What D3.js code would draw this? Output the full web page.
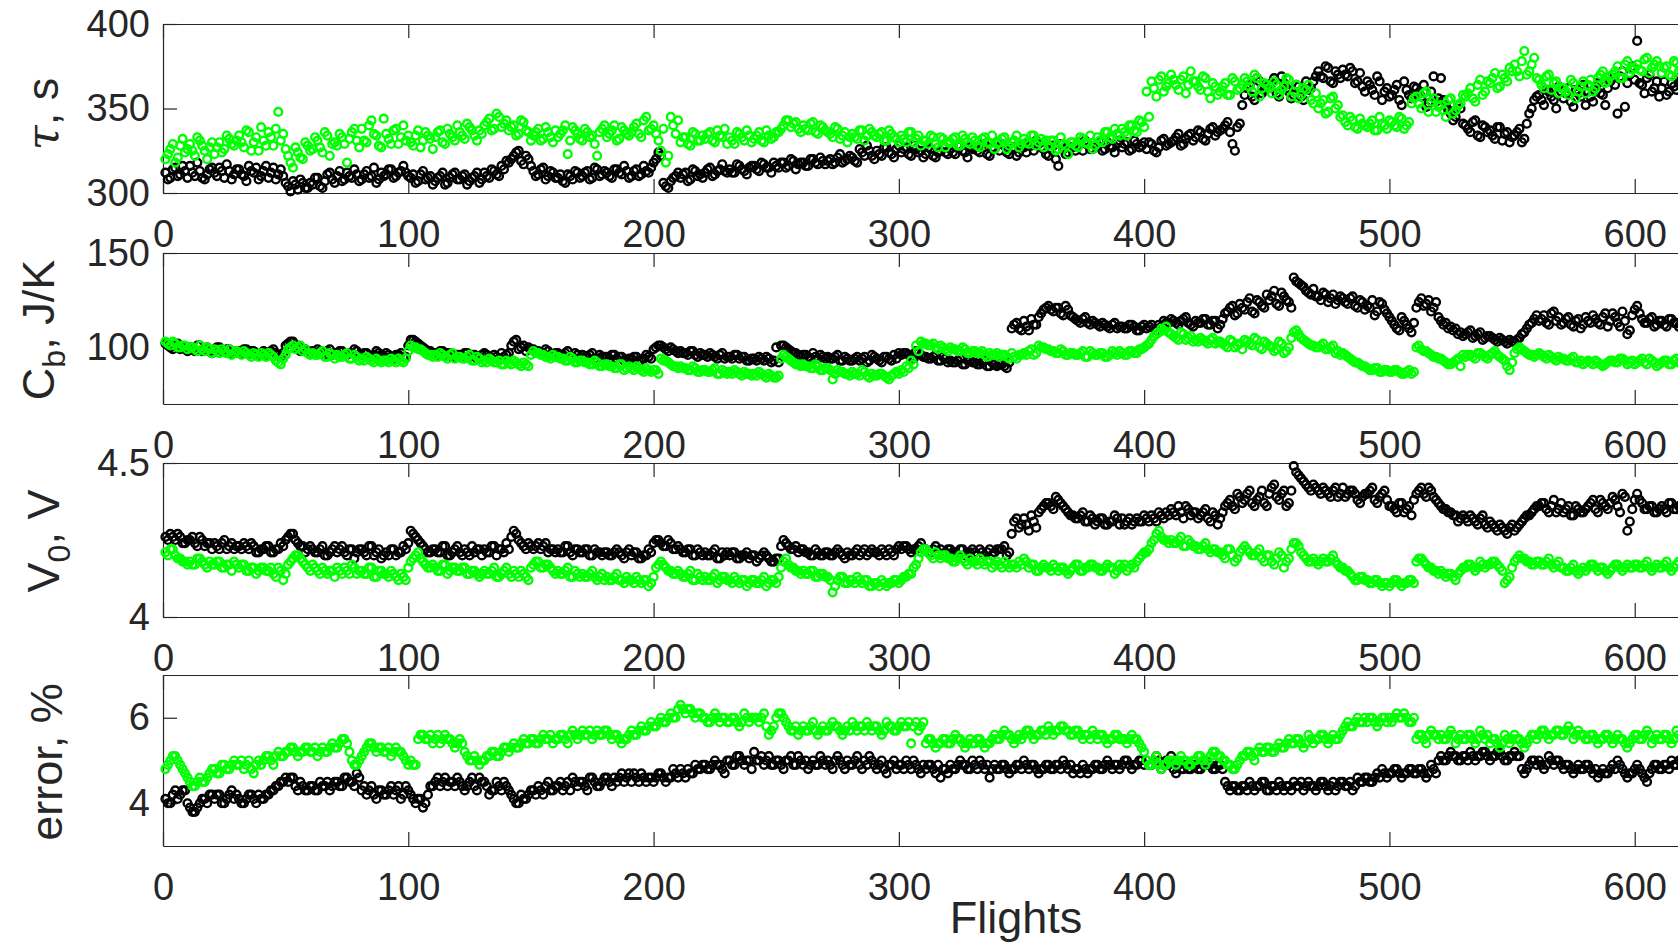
<!DOCTYPE html>
<html><head><meta charset="utf-8">
<script src="https://cdn.jsdelivr.net/npm/d3@7"></script>
<style>body{margin:0;background:#fff}svg{display:block}</style>
</head><body>
<svg id="c" width="1678" height="943"></svg>
<script>
// odd flights (1,3,...,619) and even flights (2,4,...,620)
const flightsOdd = d3.range(1, 620, 2);
const flightsEven = d3.range(2, 621, 2);
const xTicks = [0, 100, 200, 300, 400, 500, 600];
const tauTicks = [300, 350, 400];
const cbTicks = [100, 150];
const v0Ticks = [4, 4.5];
const errTicks = [4, 6];

const tauBlack = [
312,309,315,311,313, 316,310,313,308,314, 312,315,309,313,311, 314,310,316,312,308,
313,309,315,311,310, 304,307,302,306,303, 305,309,303,311,308, 310,307,312,309,311,
308,313,310,306,312, 311,314,310,313,312, 309,306,311,308,310, 307,310,305,309,312,
308,311,307,310,306, 312,309,313,310,314, 318,322,325,317,320, 313,311,315,310,312,
309,307,311,308,312, 310,313,309,314,311, 312,309,314,311,313, 310,314,311,313,315,
320,322,304,307,310, 309,312,308,313,311, 312,315,311,314,313, 314,312,316,313,315,
316,313,317,315,318, 315,318,316,319,317, 318,316,320,317,319, 319,317,321,318,320,
321,318,324,328,322, 325,322,327,323,326, 324,327,322,326,325, 323,326,321,325,324,
326,323,328,324,327, 327,324,329,322,326, 325,328,323,327,324, 327,330,325,329,326,
322,328,316,326,324, 327,330,325,329,326, 328,325,330,327,329, 327,330,326,329,328,
326,329,324,331,328, 330,333,328,332,335, 333,336,331,338,334, 337,340,336,325,341,
358,364,355,366,361, 362,368,357,365,360, 358,363,355,361,366, 372,368,374,365,370,
373,369,372,366,363, 366,361,369,355,362, 358,364,352,361,356, 362,357,351,360,354,
368,352,347,345,350, 340,336,343,333,339, 337,332,339,335,330, 334,338,332,347,355,
358,352,360,355,363, 356,362,351,359,364, 360,354,365,358,362, 368,347,372,365,375,
390,364,368,360,366, 362,358,365,361,367];
const tauBlackEven = [
308,314,310,316,309, 312,318,309,311,315, 310,313,317,308,314, 311,307,313,315,310,
316,312,308,314,306, 301,305,308,303,306, 309,304,307,312,306, 313,308,310,314,307,
311,309,315,308,310, 314,309,312,316,310, 311,307,313,309,305, 309,312,306,311,308,
310,305,309,312,308, 310,314,311,316,319, 320,324,319,322,316, 310,314,308,313,309,
311,306,310,313,309, 312,308,315,310,313, 310,314,312,316,309, 313,310,316,312,318,
324,306,303,309,312, 311,307,314,310,309, 314,310,313,317,312, 312,317,314,311,316,
314,318,315,312,316, 318,315,320,314,318, 316,320,318,321,317, 320,318,323,319,322,
319,326,322,325,320, 323,327,324,321,328, 326,323,328,324,321, 327,322,324,328,323,
324,328,325,321,326, 325,329,323,327,330, 329,324,326,322,328, 324,328,331,327,323,
326,320,329,323,327, 325,329,331,326,328, 330,326,328,324,331, 329,325,331,327,330,
330,325,327,332,329, 331,335,329,334,331, 337,332,335,339,336, 338,342,329,339,352,
362,357,368,359,363, 365,359,369,362,356, 364,357,366,362,369, 369,375,366,372,368,
370,374,365,371,360, 364,358,366,360,357, 361,355,366,358,363, 359,364,353,369,356,
355,349,343,352,341, 338,342,334,340,336, 334,339,331,336,333, 336,330,341,350,357,
355,361,357,350,360, 359,354,361,357,352, 357,363,359,352,366, 364,369,351,370,367,
365,359,370,362,357, 366,360,363,368,359];

const tauGreen = [
320,326,318,328,324, 329,322,331,325,327, 323,330,326,332,328, 334,327,336,330,325,
331,336,328,348,335, 322,315,324,320,328, 326,331,324,334,329, 328,333,318,336,331,
338,330,343,334,327, 335,329,338,333,331, 330,334,327,336,332, 333,337,329,335,331,
336,332,339,334,337, 340,344,338,345,341, 337,340,335,342,336, 334,338,332,336,330,
333,337,323,339,335, 331,336,334,322,338, 333,337,331,339,335, 336,341,333,345,338,
335,325,318,345,335, 330,333,328,335,331, 332,336,330,334,338, 333,329,335,331,334,
332,336,330,334,333, 336,340,343,341,338, 340,337,342,335,339, 336,333,338,334,330,
335,332,337,334,336, 333,336,331,335,332, 334,330,336,332,328, 331,334,329,333,327,
330,333,328,332,329, 331,327,333,329,326, 330,333,328,331,327, 332,329,334,330,327,
328,331,326,329,323, 330,327,332,329,326, 333,330,336,332,335, 338,334,340,336,342,
360,366,357,369,363, 370,364,367,359,372, 366,361,368,356,363, 360,365,358,366,362,
368,363,370,357,365, 362,366,358,363,367, 360,356,362,364,353, 350,355,348,357,352,
346,340,343,338,341, 339,343,337,341,338, 342,339,344,340,353, 357,350,360,354,348,
352,345,356,349,353, 357,362,354,367,360, 365,371,363,368,374, 376,369,384,372,380,
367,362,370,365,359, 362,358,365,360,366, 364,360,368,372,366, 370,375,368,378,373,
376,372,380,374,378, 371,375,369,377,373];
const tauGreenEven = [
323,329,321,332,326, 325,333,328,320,330, 327,324,334,329,331, 330,337,325,333,339,
328,333,338,331,326, 318,327,321,330,325, 333,327,336,322,330, 335,329,332,338,327,
331,340,335,328,344, 332,337,329,340,334, 328,337,331,334,326, 336,330,338,333,340,
334,341,337,331,335, 342,337,347,339,343, 339,334,343,337,331, 336,331,339,333,337,
335,340,331,337,332, 338,333,329,336,340, 335,340,332,337,334, 339,335,343,337,340,
331,338,322,340,343, 333,329,336,331,334, 335,331,337,333,329, 331,336,333,337,330,
334,331,337,332,336, 338,343,339,342,336, 338,341,336,340,337, 335,339,332,336,333,
333,337,331,338,334, 335,331,337,333,330, 332,336,330,334,331, 329,333,327,332,330,
332,328,334,330,333, 328,332,330,334,329, 332,326,330,334,329, 330,334,328,332,331,
331,325,333,328,330, 328,333,330,334,328, 331,336,333,338,334, 336,340,337,343,339,
345,362,367,360,365, 367,361,369,364,366, 363,369,360,365,358, 363,358,368,361,364,
366,360,368,362,364, 359,364,361,368,357, 364,358,361,355,359, 353,347,356,350,345,
342,345,339,344,340, 341,337,345,340,343, 340,345,338,342,356, 353,359,348,356,351,
349,355,347,352,358, 359,356,364,358,366, 368,362,370,366,372, 372,378,370,376,368,
364,369,361,366,362, 360,367,356,363,359, 367,362,370,365,369, 372,368,376,371,374,
373,379,371,376,375, 374,370,378,372,376];

const cbBlack = [
102,100,101,99,100, 100,98,101,99,98, 99,100,98,99,97, 98,99,97,98,96,
98,97,99,96,97, 102,103,101,99,98, 98,99,97,98,96, 97,98,96,97,98,
96,97,95,98,96, 97,95,96,97,95, 104,103,101,99,98, 97,98,96,97,95,
96,97,95,96,94, 97,95,96,94,95, 97,103,99,101,100, 99,98,97,98,96,
97,96,98,95,96, 96,95,97,94,95, 95,96,94,95,93, 94,95,93,96,94,
100,101,99,100,98, 98,97,98,96,97, 96,97,95,96,94, 95,96,94,95,93,
94,95,93,94,93, 92,101,99,97,96, 96,95,97,94,95, 95,94,96,93,94,
93,95,94,92,96, 94,92,95,93,94, 96,97,95,98,96, 95,94,96,93,94,
93,92,94,91,93, 92,91,93,90,91, 91,90,92,112,110, 114,109,112,116,120,
122,119,121,117,120, 116,114,115,113,114, 112,113,111,112,110, 111,110,112,109,111,
110,112,109,111,113, 115,113,114,116,112, 114,113,115,112,114, 112,118,121,117,123,
120,126,118,124,121, 125,130,122,127,124, 137,134,132,129,131, 127,129,124,128,125,
126,123,127,121,124, 122,125,119,123,118, 114,110,116,112,108, 121,126,123,119,124,
114,113,111,110,108, 107,109,106,108,105, 106,104,105,103,104, 103,105,108,112,115,
114,117,112,119,116, 113,116,111,115,112, 114,117,113,116,111, 118,113,119,107,117,
122,115,113,116,112, 114,111,115,113,112];
const cbBlackEven = [
101,99,102,100,98, 99,101,98,100,97, 100,98,99,97,98, 97,99,98,96,97,
96,98,97,95,101, 103,100,98,99,97, 97,98,96,99,97, 98,96,97,99,96,
97,95,96,97,95, 96,94,96,95,101, 104,102,100,98,97, 96,98,97,95,96,
95,97,96,94,96, 96,94,95,97,96, 101,104,100,98,99, 98,97,99,96,97,
96,97,95,97,94, 95,96,94,96,95, 94,96,95,93,94, 95,93,94,95,99,
101,100,98,99,97, 97,96,98,95,96, 95,96,94,97,95, 94,96,95,93,94,
93,94,95,92,100, 101,100,98,97,95, 96,94,95,96,94, 94,95,93,95,93,
94,93,95,93,95, 93,95,94,96,97, 97,96,94,97,95, 94,95,93,95,92,
92,93,91,93,92, 91,92,90,92,90, 91,89,110,113,109, 111,115,112,118,121,
120,121,118,122,117, 115,113,116,112,113, 111,112,110,113,111, 110,112,111,109,112,
111,110,112,114,113, 114,112,115,113,111, 113,115,112,114,110, 115,119,122,118,121,
124,119,125,122,128, 127,123,129,125,121, 135,133,130,128,127, 125,128,126,123,127,
124,126,122,125,120, 121,117,124,120,116, 112,109,114,110,113, 124,122,125,121,116,
112,110,109,107,106, 108,105,107,104,106, 105,103,104,102,103, 104,107,110,113,117,
115,113,118,114,112, 115,112,114,110,116, 113,115,112,118,114, 116,111,114,109,120,
118,113,115,111,114, 112,115,113,111,114];

const cbGreen = [
103,101,102,100,101, 100,99,101,98,99, 99,97,98,99,97, 97,98,96,97,95,
96,97,95,92,94, 99,101,100,98,97, 97,96,98,95,96, 96,95,97,94,95,
94,95,93,94,92, 93,94,92,93,94, 101,100,99,97,96, 96,97,95,96,94,
95,94,96,93,94, 93,94,92,93,91, 92,93,91,92,90, 98,97,96,95,96,
95,94,93,94,92, 93,92,91,92,90, 91,90,89,91,89, 89,90,88,89,87,
88,94,93,91,90, 90,89,88,89,87, 88,87,89,86,87, 87,88,86,87,86,
86,87,85,86,84, 85,96,94,92,91, 91,90,89,90,88, 89,83,88,87,86,
87,86,88,85,86, 85,86,84,85,87, 88,90,93,101,103, 102,101,100,101,99,
100,99,98,99,97, 98,97,96,97,96, 95,96,94,95,96, 97,98,96,101,100,
99,98,97,98,96, 97,96,98,95,97, 96,97,95,98,96, 97,96,98,97,99,
101,104,107,110,111, 107,105,108,104,106, 104,105,103,104,102, 103,101,104,100,102,
104,102,105,100,103, 101,98,103,97,100, 108,107,104,102,101, 100,102,99,101,98,
97,95,93,92,90, 89,88,89,87,88, 87,88,86,87,86, 100,99,98,96,95,
94,92,91,93,90, 95,96,94,97,95, 96,98,95,93,88, 97,100,98,96,95,
97,95,96,94,95, 94,93,95,92,91, 93,91,92,90,92, 93,92,94,91,93,
92,94,91,93,90, 92,93,91,94,92];
const cbGreenEven = [
102,103,100,101,99, 100,98,99,100,97, 98,99,97,96,98, 96,97,95,96,97,
95,96,93,91,96, 100,99,101,99,96, 96,97,95,97,94, 95,96,94,96,93,
93,94,92,93,93, 92,93,94,92,98, 100,99,98,96,95, 95,96,94,97,95,
94,95,93,95,92, 92,93,92,91,93, 91,92,90,91,96, 97,96,95,94,95,
94,93,95,92,93, 92,91,93,90,91, 90,89,91,88,90, 88,89,87,88,88,
86,93,92,90,89, 89,88,90,87,88, 87,88,86,88,86, 86,87,85,86,85,
85,86,84,85,84, 94,95,93,91,90, 90,89,91,88,89, 88,86,87,86,85,
86,85,87,84,85, 86,85,83,86,86, 87,89,91,98,102, 101,102,99,100,98,
99,98,100,97,98, 97,98,95,96,97, 96,95,97,94,96, 96,99,97,100,99,
98,97,99,96,97, 96,97,95,98,96, 97,95,96,97,98, 96,98,97,99,100,
102,106,108,109,108, 106,104,107,105,103, 103,104,102,105,103, 102,100,103,101,99,
103,101,104,99,102, 100,99,102,98,105, 109,105,103,101,100, 101,99,100,97,96,
96,94,92,91,90, 88,89,87,88,87, 88,87,86,88,87, 101,98,97,95,94,
93,91,92,94,96, 96,95,97,96,94, 97,96,94,90,92, 99,99,97,96,96,
96,94,95,93,94, 93,94,92,93,92, 92,93,91,91,93, 92,94,93,92,91,
93,92,94,92,91, 93,91,93,92,93];

const v0Black = [
4.26,4.27,4.25,4.26,4.24, 4.25,4.24,4.26,4.23,4.24, 4.24,4.22,4.25,4.23,4.22, 4.23,4.24,4.22,4.23,4.21,
4.22,4.23,4.21,4.22,4.23, 4.26,4.27,4.24,4.23,4.22, 4.22,4.21,4.23,4.20,4.22, 4.21,4.23,4.20,4.22,4.21,
4.22,4.20,4.23,4.21,4.19, 4.21,4.22,4.20,4.21,4.22, 4.28,4.26,4.24,4.22,4.21, 4.22,4.21,4.23,4.20,4.22,
4.21,4.22,4.20,4.21,4.22, 4.22,4.21,4.23,4.22,4.21, 4.22,4.28,4.25,4.23,4.24, 4.22,4.24,4.23,4.21,4.22,
4.22,4.21,4.23,4.20,4.22, 4.21,4.22,4.20,4.21,4.20, 4.21,4.20,4.22,4.20,4.21, 4.20,4.21,4.19,4.20,4.21,
4.25,4.24,4.23,4.24,4.22, 4.22,4.21,4.22,4.20,4.21, 4.21,4.20,4.22,4.19,4.20, 4.20,4.21,4.19,4.20,4.19,
4.20,4.19,4.21,4.19,4.18, 4.19,4.25,4.23,4.22,4.21, 4.22,4.21,4.20,4.21,4.20, 4.21,4.20,4.22,4.20,4.21,
4.20,4.22,4.21,4.20,4.22, 4.21,4.22,4.20,4.21,4.22, 4.22,4.23,4.21,4.22,4.24, 4.22,4.21,4.23,4.22,4.21,
4.22,4.21,4.22,4.20,4.21, 4.21,4.22,4.20,4.22,4.21, 4.22,4.23,4.21,4.31,4.29, 4.32,4.28,4.31,4.34,4.36,
4.37,4.35,4.38,4.36,4.34, 4.33,4.32,4.34,4.31,4.32, 4.31,4.32,4.30,4.31,4.32, 4.32,4.31,4.30,4.32,4.31,
4.32,4.33,4.31,4.33,4.34, 4.35,4.33,4.34,4.36,4.33, 4.34,4.33,4.35,4.31,4.33, 4.32,4.36,4.38,4.35,4.39,
4.38,4.41,4.36,4.39,4.37, 4.40,4.43,4.38,4.41,4.37, 4.49,4.46,4.44,4.42,4.43, 4.41,4.42,4.40,4.41,4.39,
4.42,4.40,4.41,4.38,4.39, 4.40,4.42,4.37,4.40,4.38, 4.36,4.34,4.37,4.35,4.33, 4.40,4.42,4.39,4.41,4.38,
4.36,4.35,4.34,4.33,4.32, 4.32,4.33,4.31,4.32,4.30, 4.31,4.29,4.30,4.28,4.29, 4.28,4.30,4.32,4.33,4.35,
4.36,4.37,4.34,4.38,4.35, 4.34,4.36,4.33,4.35,4.34, 4.36,4.38,4.34,4.37,4.35, 4.39,4.36,4.40,4.28,4.35,
4.40,4.37,4.35,4.36,4.34, 4.36,4.34,4.37,4.35,4.36];
const v0BlackEven = [
4.25,4.26,4.27,4.24,4.25, 4.26,4.23,4.25,4.24,4.22, 4.23,4.24,4.22,4.24,4.23, 4.22,4.23,4.24,4.21,4.22,
4.23,4.21,4.22,4.24,4.25, 4.27,4.25,4.23,4.21,4.23, 4.21,4.22,4.20,4.21,4.23, 4.22,4.21,4.22,4.19,4.22,
4.21,4.23,4.20,4.22,4.20, 4.20,4.22,4.21,4.23,4.24, 4.27,4.25,4.23,4.21,4.22, 4.21,4.23,4.20,4.21,4.23,
4.20,4.21,4.23,4.22,4.20, 4.21,4.23,4.20,4.22,4.24, 4.26,4.27,4.24,4.22,4.23, 4.23,4.22,4.24,4.22,4.21,
4.21,4.23,4.21,4.22,4.21, 4.22,4.20,4.22,4.21,4.21, 4.20,4.21,4.21,4.19,4.22, 4.21,4.19,4.20,4.22,4.24,
4.25,4.23,4.25,4.22,4.23, 4.21,4.22,4.20,4.22,4.20, 4.20,4.21,4.19,4.21,4.21, 4.21,4.19,4.20,4.21,4.20,
4.18,4.20,4.20,4.18,4.19, 4.23,4.24,4.22,4.23,4.22, 4.21,4.20,4.22,4.20,4.21, 4.20,4.21,4.21,4.19,4.20,
4.21,4.20,4.22,4.21,4.21, 4.20,4.21,4.22,4.20,4.23, 4.23,4.22,4.22,4.23,4.22, 4.21,4.22,4.21,4.20,4.22,
4.21,4.20,4.22,4.21,4.22, 4.20,4.21,4.21,4.20,4.22, 4.22,4.20,4.27,4.32,4.30, 4.30,4.33,4.29,4.35,4.37,
4.36,4.39,4.37,4.35,4.33, 4.32,4.33,4.31,4.33,4.30, 4.32,4.30,4.31,4.33,4.30, 4.30,4.32,4.31,4.31,4.33,
4.31,4.32,4.34,4.32,4.33, 4.34,4.36,4.32,4.35,4.34, 4.32,4.34,4.32,4.34,4.30, 4.34,4.37,4.36,4.40,4.37,
4.40,4.37,4.38,4.41,4.36, 4.42,4.39,4.40,4.36,4.41, 4.47,4.45,4.43,4.41,4.42, 4.40,4.41,4.39,4.42,4.40,
4.39,4.41,4.40,4.37,4.40, 4.41,4.38,4.39,4.41,4.36, 4.35,4.37,4.34,4.36,4.38, 4.41,4.40,4.42,4.39,4.37,
4.35,4.34,4.33,4.31,4.33, 4.31,4.32,4.30,4.33,4.29, 4.30,4.28,4.29,4.27,4.30, 4.29,4.31,4.33,4.34,4.36,
4.37,4.35,4.36,4.34,4.37, 4.35,4.33,4.36,4.34,4.35, 4.37,4.35,4.38,4.36,4.37, 4.38,4.34,4.39,4.31,4.38,
4.38,4.35,4.36,4.34,4.35, 4.35,4.37,4.35,4.36,4.34];

const v0Green = [
4.21,4.22,4.20,4.19,4.18, 4.18,4.17,4.19,4.17,4.18, 4.17,4.18,4.16,4.17,4.18, 4.16,4.17,4.15,4.16,4.15,
4.16,4.15,4.14,4.16,4.12, 4.17,4.19,4.20,4.18,4.16, 4.17,4.15,4.16,4.14,4.15, 4.16,4.14,4.15,4.17,4.14,
4.15,4.14,4.16,4.13,4.15, 4.14,4.15,4.13,4.14,4.12, 4.18,4.20,4.19,4.17,4.16, 4.16,4.15,4.17,4.15,4.16,
4.15,4.16,4.14,4.15,4.13, 4.15,4.14,4.16,4.13,4.15, 4.14,4.15,4.13,4.14,4.12, 4.17,4.18,4.16,4.17,4.15,
4.15,4.14,4.16,4.13,4.14, 4.14,4.13,4.15,4.12,4.14, 4.13,4.12,4.14,4.12,4.13, 4.12,4.13,4.11,4.12,4.11,
4.16,4.18,4.16,4.15,4.14, 4.14,4.13,4.15,4.12,4.13, 4.13,4.12,4.14,4.12,4.13, 4.12,4.13,4.11,4.12,4.11,
4.12,4.11,4.13,4.11,4.12, 4.13,4.18,4.17,4.16,4.15, 4.15,4.14,4.15,4.13,4.14, 4.13,4.08,4.12,4.13,4.11,
4.12,4.13,4.11,4.12,4.10, 4.11,4.12,4.10,4.11,4.12, 4.12,4.13,4.14,4.17,4.21, 4.22,4.20,4.21,4.19,4.20,
4.19,4.18,4.20,4.18,4.19, 4.18,4.19,4.17,4.18,4.17, 4.17,4.18,4.16,4.17,4.18, 4.19,4.16,4.17,4.15,4.17,
4.16,4.17,4.15,4.16,4.14, 4.16,4.17,4.15,4.16,4.17, 4.16,4.15,4.17,4.16,4.15, 4.16,4.15,4.17,4.18,4.20,
4.21,4.24,4.27,4.26,4.25, 4.25,4.24,4.26,4.23,4.24, 4.23,4.22,4.24,4.21,4.22, 4.21,4.19,4.22,4.18,4.21,
4.23,4.21,4.20,4.22,4.18, 4.20,4.17,4.21,4.16,4.19, 4.24,4.23,4.20,4.18,4.19, 4.17,4.19,4.18,4.20,4.17,
4.16,4.15,4.13,4.12,4.13, 4.12,4.11,4.12,4.10,4.11, 4.11,4.12,4.10,4.11,4.12, 4.18,4.19,4.17,4.16,4.15,
4.15,4.13,4.14,4.12,4.15, 4.16,4.17,4.15,4.18,4.16, 4.17,4.18,4.16,4.11,4.13, 4.18,4.20,4.19,4.18,4.17,
4.18,4.17,4.19,4.16,4.18, 4.16,4.15,4.17,4.14,4.16, 4.16,4.17,4.15,4.16,4.14, 4.16,4.17,4.15,4.17,4.16,
4.17,4.16,4.18,4.15,4.17, 4.16,4.18,4.15,4.17,4.16];
const v0GreenEven = [
4.20,4.22,4.19,4.18,4.17, 4.17,4.19,4.18,4.16,4.17, 4.18,4.16,4.17,4.15,4.17, 4.17,4.15,4.16,4.14,4.16,
4.15,4.16,4.13,4.15,4.14, 4.18,4.20,4.19,4.17,4.15, 4.16,4.14,4.15,4.15,4.13, 4.15,4.16,4.14,4.16,4.15,
4.14,4.16,4.13,4.15,4.14, 4.13,4.14,4.12,4.13,4.16, 4.19,4.21,4.18,4.16,4.17, 4.15,4.17,4.14,4.16,4.15,
4.16,4.14,4.15,4.14,4.14, 4.14,4.15,4.13,4.14,4.16, 4.13,4.14,4.15,4.13,4.16, 4.18,4.16,4.17,4.16,4.14,
4.14,4.15,4.13,4.15,4.13, 4.13,4.14,4.13,4.13,4.12, 4.12,4.13,4.12,4.11,4.12, 4.11,4.12,4.12,4.10,4.13,
4.17,4.17,4.15,4.14,4.15, 4.13,4.14,4.12,4.14,4.12, 4.12,4.13,4.11,4.13,4.12, 4.11,4.12,4.12,4.10,4.12,
4.11,4.12,4.10,4.12,4.11, 4.16,4.19,4.16,4.15,4.14, 4.14,4.15,4.13,4.14,4.13, 4.12,4.10,4.13,4.11,4.12,
4.11,4.12,4.12,4.10,4.11, 4.10,4.11,4.11,4.12,4.11, 4.13,4.14,4.16,4.19,4.22, 4.21,4.19,4.20,4.20,4.19,
4.18,4.19,4.19,4.17,4.18, 4.17,4.18,4.18,4.16,4.18, 4.16,4.17,4.17,4.16,4.17, 4.18,4.17,4.15,4.16,4.16,
4.15,4.16,4.16,4.15,4.15, 4.17,4.15,4.16,4.17,4.16, 4.15,4.16,4.16,4.14,4.17, 4.17,4.16,4.16,4.19,4.21,
4.22,4.25,4.28,4.25,4.24, 4.24,4.25,4.23,4.25,4.23, 4.22,4.23,4.22,4.22,4.21, 4.20,4.22,4.20,4.19,4.22,
4.22,4.20,4.21,4.19,4.20, 4.18,4.19,4.20,4.18,4.22, 4.24,4.21,4.19,4.18,4.18, 4.18,4.18,4.19,4.18,4.16,
4.15,4.14,4.12,4.13,4.12, 4.11,4.12,4.11,4.11,4.10, 4.12,4.11,4.11,4.12,4.11, 4.19,4.18,4.16,4.15,4.14,
4.14,4.14,4.13,4.14,4.16, 4.17,4.16,4.16,4.17,4.17, 4.18,4.17,4.15,4.12,4.16, 4.19,4.19,4.18,4.17,4.18,
4.17,4.18,4.17,4.17,4.16, 4.15,4.16,4.15,4.15,4.15, 4.17,4.16,4.16,4.15,4.15, 4.17,4.16,4.16,4.16,4.17,
4.16,4.17,4.16,4.16,4.16, 4.17,4.16,4.16,4.18,4.17];

const errBlack = [
4.1,4.0,4.3,4.2,4.3, 3.9,3.8,4.0,4.1,4.2, 4.1,4.2,4.0,4.2,4.1, 4.1,4.0,4.2,4.1,4.2,
4.1,4.2,4.3,4.4,4.5, 4.5,4.6,4.3,4.4,4.3, 4.4,4.3,4.4,4.5,4.4, 4.5,4.4,4.6,4.5,4.7,
4.3,4.2,4.4,4.1,4.3, 4.2,4.4,4.3,4.1,4.4, 4.2,4.0,4.1,4.0,4.4, 4.5,4.4,4.6,4.5,4.4,
4.5,4.3,4.5,4.4,4.6, 4.5,4.2,4.3,4.4,4.5, 4.3,4.1,4.0,4.1,4.2, 4.3,4.4,4.2,4.5,4.3,
4.4,4.3,4.5,4.6,4.4, 4.5,4.3,4.6,4.4,4.5, 4.6,4.4,4.5,4.7,4.6, 4.5,4.6,4.7,4.5,4.6,
4.6,4.7,4.5,4.6,4.7, 4.8,4.6,4.7,4.9,4.8, 4.9,4.8,5.0,4.9,4.7, 5.0,4.9,5.1,4.9,5.0,
5.2,5.0,4.9,5.1,4.9, 5.0,4.8,5.0,4.9,5.1, 4.9,4.8,5.0,4.9,5.0, 5.0,4.8,5.1,4.9,5.0,
4.9,5.1,4.8,4.9,5.0, 4.8,5.0,4.7,4.9,4.8, 4.9,5.0,4.8,4.9,4.7, 4.8,4.9,4.7,4.6,4.8,
4.9,4.8,5.0,4.9,4.8, 4.9,5.0,4.8,4.6,4.9, 4.8,4.9,4.7,4.8,4.9, 5.0,4.8,4.9,4.7,4.8,
4.9,4.8,4.9,5.0,4.8, 4.7,4.8,4.9,4.7,4.8, 4.9,4.8,5.0,4.8,4.9, 4.9,5.0,4.8,4.9,5.0,
5.0,4.9,5.1,4.8,5.0, 5.1,4.7,4.8,4.9,4.8, 4.9,4.8,5.0,4.9,4.8, 4.9,4.5,4.3,4.4,4.3,
4.4,4.5,4.3,4.4,4.5, 4.3,4.4,4.5,4.3,4.4, 4.5,4.4,4.3,4.5,4.4, 4.4,4.5,4.3,4.5,4.4,
4.5,4.4,4.3,4.6,4.5, 4.6,4.5,4.7,4.8,4.6, 4.7,4.8,4.6,4.7,4.8, 4.7,4.8,4.6,4.9,4.7,
5.1,5.0,5.2,5.1,5.0, 5.1,5.2,5.0,5.1,5.2, 5.0,5.1,5.2,5.0,5.1, 5.2,5.1,4.7,4.9,5.0,
5.0,4.8,5.1,4.9,5.0, 4.8,4.9,4.7,4.9,4.8, 4.9,4.7,4.6,4.8,4.7, 4.9,5.0,4.8,4.6,4.7,
4.9,4.7,4.5,4.8,4.9, 4.8,4.9,5.0,4.9,5.0];
const errBlackEven = [
4.0,4.2,4.1,4.3,4.0, 3.8,3.9,4.1,4.0,4.2, 4.2,4.0,4.1,4.3,4.2, 4.0,4.1,4.2,4.0,4.1,
4.2,4.3,4.4,4.5,4.6, 4.6,4.4,4.5,4.3,4.4, 4.3,4.5,4.4,4.3,4.5, 4.4,4.6,4.5,4.4,4.6,
4.4,4.3,4.2,4.3,4.2, 4.3,4.2,4.4,4.2,4.3, 4.1,4.1,3.9,4.2,4.4, 4.6,4.5,4.4,4.5,4.6,
4.4,4.4,4.6,4.3,4.5, 4.4,4.3,4.5,4.3,4.4, 4.2,4.0,4.2,4.1,4.3, 4.2,4.3,4.4,4.3,4.4,
4.5,4.4,4.3,4.5,4.5, 4.4,4.6,4.5,4.4,4.6, 4.5,4.6,4.6,4.5,4.7, 4.7,4.5,4.6,4.6,4.5,
4.7,4.6,4.6,4.8,4.6, 4.7,4.8,4.7,4.8,4.9, 4.8,4.9,4.9,4.8,5.0, 4.9,5.1,5.0,5.0,4.8,
5.0,5.1,5.0,4.9,5.0, 4.9,5.0,5.1,4.9,5.0, 5.0,4.9,4.9,5.1,4.9, 4.9,5.0,5.0,4.8,4.9,
5.0,4.9,5.0,5.1,4.9, 4.9,4.8,4.9,5.0,4.9, 4.8,4.9,5.0,4.8,4.9, 4.9,4.8,4.9,4.8,4.7,
4.8,4.9,4.9,4.8,5.0, 4.8,4.9,4.9,4.8,4.8, 4.9,4.8,4.8,4.9,4.8, 4.9,4.9,4.8,4.8,4.9,
4.8,4.9,4.8,4.9,4.9, 4.8,4.7,4.8,4.8,4.9, 4.8,4.9,4.9,4.9,4.8, 5.0,4.9,4.9,5.0,4.9,
4.9,5.0,5.0,4.9,4.9, 4.8,4.9,4.8,4.8,4.9, 4.8,4.9,4.9,4.8,4.9, 4.8,4.4,4.4,4.3,4.4,
4.3,4.4,4.4,4.5,4.3, 4.4,4.3,4.4,4.4,4.3, 4.4,4.5,4.4,4.4,4.3, 4.5,4.4,4.4,4.3,4.5,
4.4,4.5,4.4,4.5,4.6, 4.5,4.6,4.6,4.7,4.7, 4.8,4.7,4.7,4.8,4.7, 4.8,4.7,4.7,4.8,5.0,
5.0,5.1,5.1,5.0,5.1, 5.0,5.1,5.1,5.2,5.1, 5.1,5.2,5.1,5.0,5.1, 5.1,4.8,4.8,5.0,4.9,
4.9,4.9,5.0,5.0,4.9, 4.9,4.8,4.8,4.8,4.9, 4.8,4.8,4.7,4.7,4.8, 4.8,4.9,4.7,4.7,4.8,
4.8,4.6,4.7,4.9,4.8, 4.9,4.8,4.9,5.0,4.9];

const errGreen = [
4.8,5.0,5.1,4.9,4.7, 4.5,4.4,4.6,4.5,4.7, 4.8,4.7,4.9,4.8,5.0, 4.9,4.8,5.0,4.7,5.0,
5.0,5.1,4.9,5.2,5.1, 5.2,5.3,5.1,5.2,5.3, 5.2,5.1,5.3,5.2,5.4, 5.3,5.5,5.4,5.0,4.9,
5.1,5.3,5.4,5.2,5.3, 5.2,5.1,5.3,5.2,5.0, 5.0,4.9,5.6,5.5,5.6, 5.5,5.4,5.6,5.5,5.3,
5.5,5.2,5.0,5.1,4.9, 5.0,5.1,5.2,5.1,5.3, 5.2,5.4,5.3,5.5,5.4, 5.5,5.4,5.6,5.5,5.4,
5.5,5.6,5.4,5.7,5.5, 5.7,5.6,5.5,5.7,5.6, 5.7,5.5,5.6,5.4,5.5, 5.7,5.6,5.8,5.7,5.9,
5.8,6.0,5.9,6.1,6.0, 6.3,6.1,6.2,6.0,6.1, 6.0,5.9,6.1,5.9,6.0, 5.9,6.0,5.8,6.1,5.9,
6.0,5.9,6.1,5.6,5.8, 6.1,6.0,5.8,5.7,5.6, 5.8,5.7,5.9,5.6,5.8, 5.7,5.9,5.8,5.6,5.8,
5.9,5.7,5.8,5.9,5.7, 5.8,5.6,5.9,5.8,5.7, 5.9,5.8,5.4,5.9,5.8, 5.4,5.5,5.3,5.4,5.5,
5.4,5.6,5.5,5.3,5.5, 5.4,5.5,5.3,5.4,5.6, 5.5,5.7,5.6,5.4,5.6, 5.6,5.7,5.5,5.6,5.7,
5.8,5.6,5.7,5.8,5.7, 5.6,5.7,5.5,5.6,5.7, 5.5,5.6,5.4,5.5,5.6, 5.5,5.4,5.6,5.5,5.3,
5.0,4.9,5.1,4.8,4.9, 5.0,4.9,5.1,5.0,4.9, 5.0,5.1,4.9,5.1,5.2, 5.1,5.0,4.9,4.8,5.0,
5.1,5.2,5.0,5.3,5.2, 5.3,5.2,5.4,5.3,5.5, 5.4,5.5,5.3,5.6,5.4, 5.5,5.6,5.4,5.6,5.5,
5.7,5.9,5.8,6.0,5.9, 5.9,6.0,5.8,6.0,5.9, 5.9,6.1,6.0,6.0,5.9, 5.5,5.6,5.4,5.7,5.6,
5.6,5.5,5.7,5.4,5.6, 5.5,5.6,5.4,5.7,5.5, 5.4,5.5,5.3,5.6,5.4, 5.6,5.5,5.3,5.5,5.6,
5.6,5.7,5.5,5.6,5.7, 5.6,5.8,5.5,5.7,5.6, 5.5,5.6,5.4,5.5,5.6, 5.4,5.6,5.5,5.3,5.5,
5.6,5.5,5.7,5.4,5.6, 5.5,5.6,5.4,5.7,5.5];
const errGreenEven = [
4.9,5.1,5.0,4.8,4.6, 4.4,4.5,4.5,4.6,4.8, 4.7,4.9,4.8,4.9,4.9, 5.0,4.9,4.8,4.9,4.9,
5.1,5.0,5.1,5.1,5.2, 5.3,5.2,5.2,5.3,5.2, 5.3,5.2,5.2,5.3,5.3, 5.4,5.5,5.2,4.9,5.0,
5.2,5.4,5.3,5.3,5.2, 5.3,5.2,5.2,5.1,4.9, 4.9,5.5,5.6,5.5,5.4, 5.6,5.5,5.5,5.4,5.4,
5.4,5.1,5.0,5.0,5.0, 5.1,5.2,5.1,5.2,5.3, 5.3,5.3,5.4,5.4,5.5, 5.4,5.5,5.5,5.6,5.5,
5.6,5.5,5.6,5.6,5.6, 5.6,5.7,5.6,5.6,5.7, 5.6,5.6,5.5,5.5,5.6, 5.6,5.7,5.7,5.8,5.8,
5.9,5.9,6.0,6.0,6.2, 6.2,6.2,6.1,6.1,6.0, 5.9,6.0,6.0,6.0,5.9, 6.0,5.9,5.9,6.0,6.0,
6.0,6.0,5.8,5.7,6.0, 6.1,5.9,5.7,5.8,5.7, 5.7,5.8,5.7,5.7,5.7, 5.8,5.8,5.7,5.7,5.7,
5.8,5.8,5.7,5.8,5.8, 5.7,5.7,5.8,5.7,5.8, 5.8,5.9,5.8,5.7,5.9, 5.5,5.4,5.4,5.5,5.4,
5.5,5.5,5.4,5.4,5.4, 5.5,5.4,5.4,5.5,5.5, 5.6,5.6,5.5,5.5,5.5, 5.7,5.6,5.6,5.7,5.6,
5.7,5.7,5.8,5.7,5.6, 5.7,5.6,5.6,5.5,5.6, 5.6,5.5,5.5,5.6,5.5, 5.5,5.5,5.5,5.4,5.2,
4.9,5.0,4.9,4.9,5.0, 5.0,5.0,5.0,4.9,5.0, 5.1,5.0,5.0,5.2,5.1, 5.0,4.9,4.8,4.9,5.1,
5.2,5.1,5.2,5.2,5.3, 5.2,5.3,5.3,5.4,5.4, 5.5,5.4,5.4,5.5,5.5, 5.6,5.5,5.5,5.5,5.6,
5.8,5.8,5.9,5.9,6.0, 6.0,5.9,5.9,6.0,6.0, 6.0,6.0,6.1,5.9,6.0, 5.6,5.5,5.6,5.6,5.5,
5.5,5.6,5.6,5.5,5.5, 5.6,5.5,5.5,5.6,5.6, 5.5,5.4,5.4,5.5,5.5, 5.5,5.4,5.4,5.6,5.5,
5.7,5.6,5.6,5.7,5.6, 5.7,5.7,5.6,5.6,5.5, 5.6,5.5,5.5,5.6,5.5, 5.5,5.5,5.4,5.4,5.6,
5.5,5.6,5.6,5.5,5.5, 5.6,5.5,5.5,5.6,5.6];

const TXT = '#262626';
const FONT = '"Liberation Sans", Arial, Helvetica, sans-serif';
const svg = d3.select('#c');
const X0 = 163, X1 = 1880;
const x = d3.scaleLinear().domain([0, 700]).range([X0, X1]);

const panels = [
  {top: 24,  bottom: 193, domain: [300, 400], ticks: tauTicks, black: [tauBlack, tauBlackEven], green: [tauGreen, tauGreenEven], label: 'tau', lx: 58, ly: 114},
  {top: 253, bottom: 404, domain: [70, 150],  ticks: cbTicks,  black: [cbBlack, cbBlackEven],   green: [cbGreen, cbGreenEven],   label: 'cb',  lx: 54, ly: 330},
  {top: 463, bottom: 617, domain: [4, 4.5],   ticks: v0Ticks,  black: [v0Black, v0BlackEven],   green: [v0Green, v0GreenEven],   label: 'v0',  lx: 59, ly: 541},
  {top: 675, bottom: 846, domain: [3, 7],     ticks: errTicks, black: [errBlack, errBlackEven], green: [errGreen, errGreenEven], label: 'err', lx: 62, ly: 762}
];

function styleAxis(g) {
  g.attr('font-family', FONT).attr('font-size', 38).attr('color', TXT);
  g.selectAll('line').attr('stroke', '#262626').attr('stroke-width', 1.2);
  g.selectAll('path').attr('stroke', '#262626').attr('stroke-width', 1.2);
  g.selectAll('text').attr('fill', TXT);
}

function toPoints(pair) {
  const pts = [];
  pair[0].forEach((v, i) => { if (v != null) pts.push({f: flightsOdd[i], v}); });
  pair[1].forEach((v, i) => { if (v != null) pts.push({f: flightsEven[i], v}); });
  return pts.sort((a, b) => a.f - b.f);
}

panels.forEach(p => {
  const y = d3.scaleLinear().domain(p.domain).range([p.bottom, p.top]);
  const g = svg.append('g');

  g.append('g').attr('transform', `translate(0,${p.bottom})`)
    .call(d3.axisBottom(x).tickValues(xTicks).tickSize(-14).tickSizeOuter(0).tickPadding(27).tickFormat(d3.format('d')))
    .call(styleAxis);
  g.append('g').attr('transform', `translate(0,${p.top})`)
    .call(d3.axisTop(x).tickValues(xTicks).tickSize(-14).tickSizeOuter(0).tickFormat(''))
    .call(styleAxis);
  g.append('g').attr('transform', `translate(${X0},0)`)
    .call(d3.axisLeft(y).tickValues(p.ticks).tickSize(-14).tickSizeOuter(0).tickPadding(13).tickFormat(d => String(d)))
    .call(styleAxis);
  g.append('line').attr('x1', X1).attr('x2', X1).attr('y1', p.top).attr('y2', p.bottom)
    .attr('stroke', '#262626').attr('stroke-width', 1.2);

  [[p.black, '#000000'], [p.green, '#00ff00']].forEach(([pair, col]) => {
    g.append('g').selectAll('circle')
      .data(toPoints(pair))
      .join('circle')
      .attr('cx', d => x(d.f)).attr('cy', d => y(d.v)).attr('r', 3.9)
      .attr('fill', 'none').attr('stroke', col).attr('stroke-width', 2.4);
  });

  const t = svg.append('text')
    .attr('transform', `translate(${p.lx},${p.ly}) rotate(-90)`)
    .attr('text-anchor', 'middle').attr('font-family', FONT).attr('font-size', 45).attr('fill', TXT);
  if (p.label === 'tau') {
    t.append('tspan').attr('font-family', '"DejaVu Serif", "Liberation Serif", serif').attr('font-style', 'italic').text('τ');
    t.append('tspan').text(', s');
  } else if (p.label === 'cb') {
    t.append('tspan').text('C');
    t.append('tspan').attr('font-size', 32).attr('dy', 11).text('b');
    t.append('tspan').attr('dy', -11).text(', J/K');
  } else if (p.label === 'v0') {
    t.append('tspan').text('V');
    t.append('tspan').attr('font-size', 32).attr('dy', 11).text('0');
    t.append('tspan').attr('dy', -11).text(', V');
  } else {
    t.text('error, %');
  }
});

svg.append('text').attr('x', 1016).attr('y', 933).attr('text-anchor', 'middle')
  .attr('font-family', FONT).attr('font-size', 45).attr('fill', TXT).text('Flights');
</script>
</body></html>
